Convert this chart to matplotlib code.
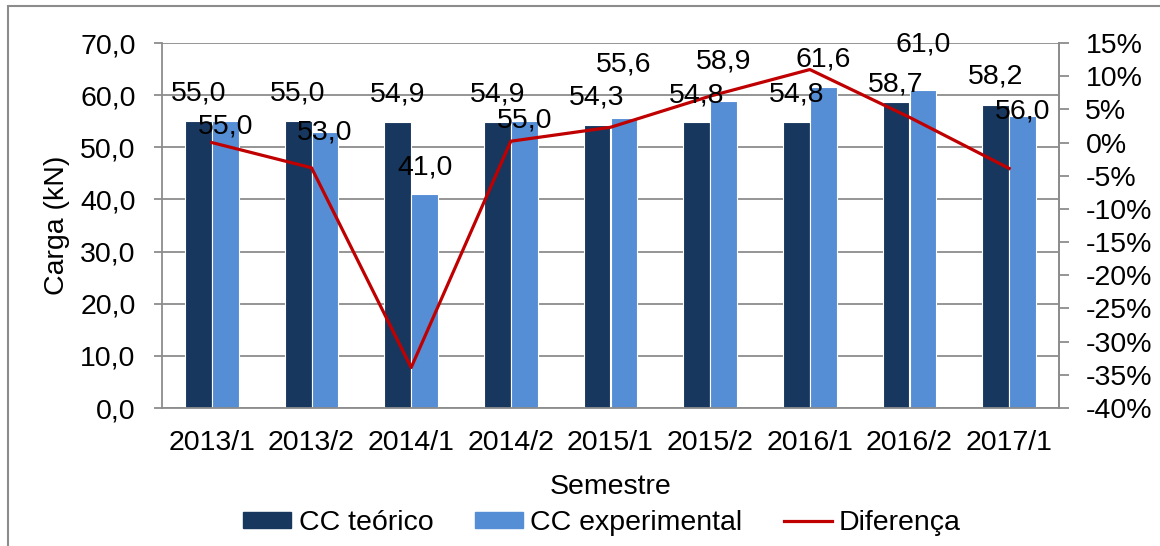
import matplotlib.pyplot as plt
import matplotlib.patches as mpatches
from matplotlib.lines import Line2D
from matplotlib.ticker import FuncFormatter, MultipleLocator
import numpy as np

# Data
semestres = ['2013/1', '2013/2', '2014/1', '2014/2', '2015/1',
             '2015/2', '2016/1', '2016/2', '2017/1']
cc_teorico = [55.0, 55.0, 54.9, 54.9, 54.3, 54.8, 54.8, 58.7, 58.2]
cc_experimental = [55.0, 53.0, 41.0, 55.0, 55.6, 58.9, 61.6, 61.0, 56.0]
diferenca = [0.0, -3.8, -33.9, 0.2, 2.3, 7.0, 11.0, 3.8, -3.9]  # percent

# label offsets above the bar top (kN), as placed in the original
off_teo = [5.4, 5.4, 5.2, 5.2, 5.2, 5.1, 5.3, 3.3, 5.3]
off_exp = [-1.1, -0.2, 5.2, 0.1, 10.2, 7.5, 5.2, 8.7, 0.8]

c_dark = '#17375E'
c_light = '#558ED5'
c_red = '#C00000'
c_grid = '#8C8C8C'

plt.rcParams['font.family'] = ['Liberation Sans', 'DejaVu Sans']
fs = 20.5

fig = plt.figure(figsize=(11.6, 5.46), dpi=100)
ax = fig.add_axes([162 / 1160, 1 - 408 / 546, (1059 - 162) / 1160, (408 - 43) / 546])

# outer frame
fig.patches.append(mpatches.Rectangle((8 / 1160, -0.1), 1.2, 1 - 6 / 546 + 0.1,
                                      transform=fig.transFigure, fill=False,
                                      edgecolor=c_grid, lw=1.5))

x = np.arange(len(semestres))
w = 0.27
ax.bar(x - w / 2, cc_teorico, w, color=c_dark, edgecolor='white', lw=0.8, zorder=2)
ax.bar(x + w / 2, cc_experimental, w, color=c_light, edgecolor='white', lw=0.8, zorder=2)

ax.set_xlim(-0.5, len(semestres) - 0.5)
ax.set_ylim(0, 70)
ax.yaxis.set_major_locator(MultipleLocator(10))
ax.yaxis.set_major_formatter(FuncFormatter(lambda v, p: f'{v:.1f}'.replace('.', ',')))
ax.grid(axis='y', color=c_grid, lw=1.3, zorder=0)
ax.set_axisbelow(True)
ax.set_xticks(x)
ax.set_xticklabels(semestres)
ax.tick_params(axis='x', length=0, pad=16, labelsize=fs)
ax.tick_params(axis='y', length=6, width=1.3, color=c_grid, pad=13, labelsize=fs)
ax.spines['top'].set_visible(False)
for s in ['left', 'bottom', 'right']:
    ax.spines[s].set_color(c_grid)
    ax.spines[s].set_linewidth(1.3)
ax.set_ylabel('Carga (kN)', fontsize=fs, va='center', ha='center')
ax.yaxis.set_label_coords((57 - 162) / 897, 0.5)
ax.set_xlabel('Semestre', fontsize=fs, va='center', ha='center')
ax.xaxis.set_label_coords(0.5, (408 - 487) / 365)

ax2 = ax.twinx()
ax2.plot(x, diferenca, color=c_red, lw=2.3, zorder=3)
ax2.set_ylim(-40, 15)
ax2.yaxis.set_major_locator(MultipleLocator(5))
ax2.yaxis.set_major_formatter(FuncFormatter(lambda v, p: f'{v:.0f}%'))
ax2.tick_params(axis='y', length=7, width=1.3, color=c_grid, pad=12, labelsize=fs)
for s in ['top', 'left', 'bottom']:
    ax2.spines[s].set_visible(False)
ax2.spines['right'].set_color(c_grid)
ax2.spines['right'].set_linewidth(1.3)

# data labels
for i in range(len(semestres)):
    ax2.text(x[i] - w / 2, cc_teorico[i] + off_teo[i], f'{cc_teorico[i]:.1f}'.replace('.', ','),
             transform=ax.transData, ha='center', va='center', fontsize=fs, zorder=5)
    ax2.text(x[i] + w / 2, cc_experimental[i] + off_exp[i], f'{cc_experimental[i]:.1f}'.replace('.', ','),
             transform=ax.transData, ha='center', va='center', fontsize=fs, zorder=5)

handles = [mpatches.Patch(color=c_dark, label='CC teórico'),
           mpatches.Patch(color=c_light, label='CC experimental'),
           Line2D([0], [0], color=c_red, lw=2.3, label='Diferença')]
fig.legend(handles=handles, loc='center', bbox_to_anchor=(602 / 1160, 1 - 523 / 546), ncol=3,
           frameon=False, fontsize=fs, handlelength=1.7, handleheight=0.47,
           handletextpad=0.25, columnspacing=1.45, borderpad=0, borderaxespad=0)

fig.savefig('out.png', dpi=100)
